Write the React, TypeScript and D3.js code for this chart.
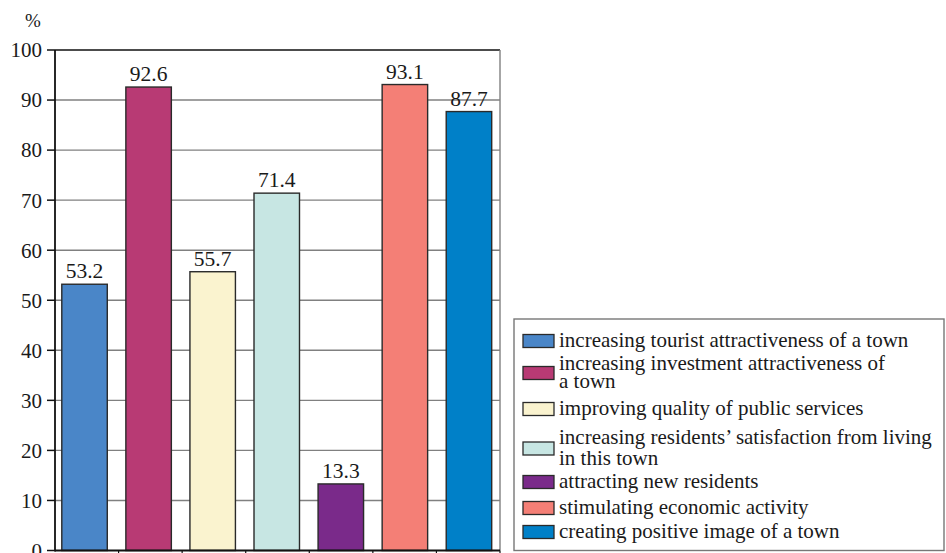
import React from "react";
import * as d3 from "d3";

const categories = [
  "increasing tourist attractiveness of a town",
  "increasing investment attractiveness of a town",
  "improving quality of public services",
  "increasing residents’ satisfaction from living in this town",
  "attracting new residents",
  "stimulating economic activity",
  "creating positive image of a town",
];
const legendLines = [
  ["increasing tourist attractiveness of a town"],
  ["increasing investment attractiveness of", "a town"],
  ["improving quality of public services"],
  ["increasing residents’ satisfaction from living", "in this town"],
  ["attracting new residents"],
  ["stimulating economic activity"],
  ["creating positive image of a town"],
];
const values = [53.2, 92.6, 55.7, 71.4, 13.3, 93.1, 87.7];
const colors = ["#4A86C8", "#B83A74", "#FAF3CF", "#C7E6E3", "#7A2A8A", "#F47F76", "#0080C8"];
const yTicks = [0, 10, 20, 30, 40, 50, 60, 70, 80, 90, 100];

const W = 946;
const H = 553;
const left = 55;
const right = 500;
const top = 50;
const bottom = 550.5;
const font = "Liberation Serif";

export default function App() {
  const x = d3.scaleBand<string>().domain(categories).range([52.5, 501]).paddingInner(0.29).paddingOuter(0.145);
  const y = d3.scaleLinear().domain([0, 100]).range([bottom, top]);
  const step = (right - left) / categories.length;

  const legendX = 514;
  const legendTop = 319;
  const swX = 523;
  const textX = 559;
  const lineCenters = [[340], [363, 381], [408], [437, 458], [481], [507], [531]];
  const ts = { fontFamily: font };

  return (
    <svg width={W} height={H} style={{ position: "absolute", left: 0, top: 0, background: "#fff" }}>
      <rect x={0} y={0} width={W} height={H} fill="#fff" />
      {yTicks.filter((t) => t > 0).map((t) => (
        <line key={t} x1={left} x2={right} y1={y(t)} y2={y(t)} stroke={t === 100 ? "#111" : "#808080"} strokeWidth={t === 100 ? 1.6 : 1.4} />
      ))}
      <line x1={right} x2={right} y1={top} y2={bottom} stroke="#808080" strokeWidth={1.4} />
      {categories.map((c, i) => (
        <rect key={c} x={x(c)} y={y(values[i])} width={x.bandwidth()} height={bottom - y(values[i])} fill={colors[i]} stroke="#2a2a2a" strokeWidth={1.4} />
      ))}
      {categories.map((c, i) => (
        <text key={c} style={ts} x={(x(c) as number) + x.bandwidth() / 2} y={y(values[i]) - 6} textAnchor="middle" fontSize={21.5} fill="#1a1a1a">
          {values[i].toFixed(1)}
        </text>
      ))}
      <line x1={left} x2={left} y1={top} y2={bottom + 1} stroke="#111" strokeWidth={1.8} />
      {yTicks.map((t) => (
        <g key={t}>
          <line x1={left - 8} x2={left} y1={y(t)} y2={y(t)} stroke="#111" strokeWidth={1.5} />
          <text style={ts} x={42} y={y(t)} dy="0.35em" textAnchor="end" fontSize={21} fill="#1a1a1a">{t}</text>
        </g>
      ))}
      <line x1={left} x2={right} y1={bottom} y2={bottom} stroke="#111" strokeWidth={1.8} />
      {categories.map((c, i) => (
        <line key={c} x1={left + step * (i + 1)} x2={left + step * (i + 1)} y1={bottom} y2={bottom + 5} stroke="#111" strokeWidth={1.2} />
      ))}
      <text style={ts} x={33} y={20} dy="0.35em" textAnchor="middle" fontSize={19} fill="#1a1a1a">%</text>
      <rect x={legendX} y={legendTop} width={430} height={bottom - legendTop} fill="#fff" stroke="#777" strokeWidth={1.4} />
      {legendLines.map((lines, i) => {
        const cs = lineCenters[i];
        const cy = (cs[0] + cs[cs.length - 1]) / 2;
        return (
          <g key={i}>
            <rect x={swX} y={cy - 5.5} width={31} height={13} fill={colors[i]} stroke="#2a2a2a" strokeWidth={1.3} />
            {lines.map((l, j) => (
              <text key={j} style={ts} x={textX} y={cs[j]} dy="0.32em" fontSize={21} fill="#1a1a1a">{l}</text>
            ))}
          </g>
        );
      })}
    </svg>
  );
}
